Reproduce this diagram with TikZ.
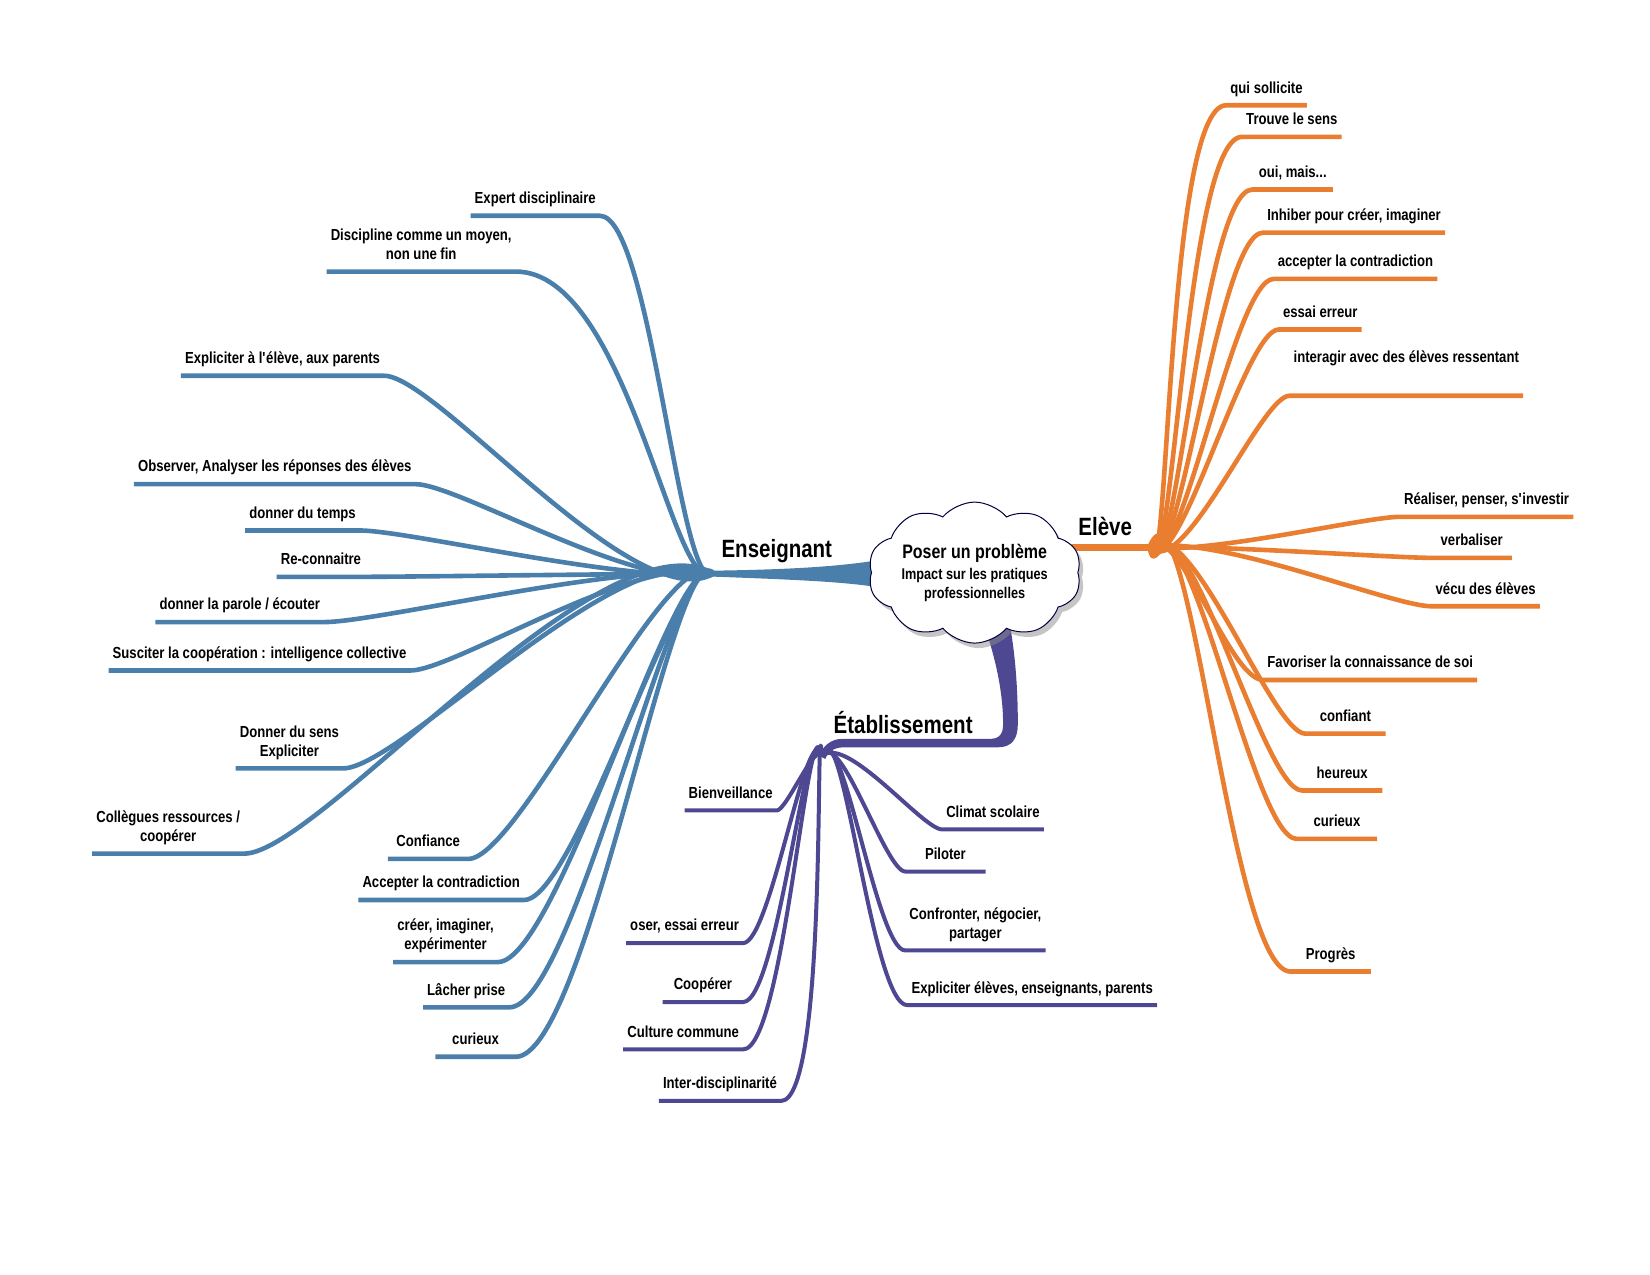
\documentclass[tikz,border=0pt]{standalone}
\usepackage{fontspec}
\setmainfont[FakeStretch=0.82]{Liberation Sans}
\usetikzlibrary{shapes.symbols,shadows}
\definecolor{ensblue}{RGB}{74,127,172}
\definecolor{elvorange}{RGB}{233,125,48}
\definecolor{etapurple}{RGB}{78,72,146}

\begin{document}
\begin{tikzpicture}[
        x=1.0526pt, y=-1.0526pt,
        lab/.style={font=\fontsize{16}{19}\selectfont\bfseries, align=center,
            inner xsep=4pt, inner ysep=7pt, text depth=5pt, minimum width=80pt},
        big/.style={font=\fontsize{25}{28}\selectfont\bfseries},
        ens/.style={draw=ensblue, line width=4.6pt, line join=round,
            out looseness=.6, in looseness=.35},
        elv/.style={ens, draw=elvorange},
        eta/.style={ens, draw=etapurple, line width=4pt},
        prob/.style={cloud, cloud puffs=10, cloud puff arc=100, cloud ignores aspect,
            draw=black!75!blue, line width=1pt, fill=white, inner sep=0pt, align=center,
            minimum width=213pt, minimum height=141pt,
            font=\fontsize{15.5}{19}\selectfont\bfseries,
            drop shadow={shadow xshift=4pt, shadow yshift=-5pt, fill=black!45}},
    ]

    \useasboundingbox (0,0) rectangle (1567.6,1211.3);

    \coordinate (c) at (926,544);
    \coordinate (hE) at (678,545);
    \coordinate (hV) at (1092,520);
    \coordinate (hT) at (781,718);

    % troncs
    \fill[ensblue] ([yshift=3pt]hE) .. controls (763,541) and (811,537) .. (846,530)
        -- (846,560) .. controls (811,553) and (763,551) .. ([yshift=-3pt]hE) -- cycle;
    \draw[elvorange, line width=7pt] (hV) -- (hV -| c);
    \fill[etapurple] (930,580) .. controls (947,625) and (953,660) .. (953,688)
        .. controls (953,698) and (949,702) .. (940,702) -- (800,702)
        .. controls (789,702) and (782,709) .. (778,718) -- (784,721)
        .. controls (787,714) and (792,710) .. (802,710) -- (948,710)
        .. controls (962,710) and (967,701) .. (967,688)
        .. controls (967,650) and (964,615) .. (957,580) -- cycle;

    \node[prob] (cl) at (c) {{\fontsize{19.5}{19}\selectfont Poser un problème}\\[2pt]
        Impact sur les pratiques\\professionnelles};

    \node[big] (ens) at (738,524) {Enseignant};
    \node[big] (elv) at (1050,500) {Elève};
    \node[big] (eta) at (858,686) {Établissement};

    % Enseignant
    \node[lab, anchor=south east] (e1) at (570,205) {Expert disciplinaire};
    \node[lab, anchor=south east] (e2) at (490,258) {Discipline comme un moyen,\\non une fin};
    \node[lab, anchor=south east] (e3) at (365,357) {Expliciter à l\textquotesingle{}élève, aux parents};
    \node[lab, anchor=south east] (e4) at (395,460) {Observer, Analyser les réponses des élèves};
    \node[lab, anchor=south east] (e5) at (342,504) {donner du temps};
    \node[lab, anchor=south east] (e6) at (347,548) {Re-connaitre};
    \node[lab, anchor=south east] (e7) at (308,591) {donner la parole / écouter};
    \node[lab, anchor=south east] (e8) at (390,637) {Susciter la coopération : intelligence collective};
    \node[lab, anchor=south east] (e9) at (326,730) {Donner du sens\\Expliciter};
    \node[lab, anchor=south east] (e10) at (232,811) {Collègues ressources /\\coopérer};
    \node[lab, anchor=south east] (e11) at (445,816) {Confiance};
    \node[lab, anchor=south east] (e12) at (498,855) {Accepter la contradiction};
    \node[lab, anchor=south east] (e13) at (473,914) {créer, imaginer,\\expérimenter};
    \node[lab, anchor=south east] (e14) at (484,957) {Lâcher prise};
    \node[lab, anchor=south east] (e15) at (490,1004) {curieux};

    \draw[ens] (hE) to[out=-140, in=0, out looseness=.3] (e1.south east) -- (e1.south west);
    \draw[ens] (hE) to[out=-145, in=0, out looseness=.35, in looseness=.8] (e2.south east) -- (e2.south west);
    \draw[ens] (hE) to[out=-150, in=0] (e3.south east) -- (e3.south west);
    \draw[ens] (hE) to[out=-163, in=0] (e4.south east) -- (e4.south west);
    \draw[ens] (hE) to[out=-173, in=0] (e5.south east) -- (e5.south west);
    \draw[ens] (hE) to[out=180, in=0] (e6.south east) -- (e6.south west);
    \draw[ens] (hE) to[out=173, in=0] (e7.south east) -- (e7.south west);
    \draw[ens] (hE) to[out=162, in=0] (e8.south east) -- (e8.south west);
    \draw[ens] (hE) to[out=153, in=0] (e9.south east) -- (e9.south west);
    \draw[ens] (hE) to[out=150, in=0] (e10.south east) -- (e10.south west);
    \draw[ens] (hE) to[out=138, in=0, out looseness=.4] (e11.south east) -- (e11.south west);
    \draw[ens] (hE) to[out=136, in=0, out looseness=.3] (e12.south east) -- (e12.south west);
    \draw[ens] (hE) to[out=135, in=0, out looseness=.3] (e13.south east) -- (e13.south west);
    \draw[ens] (hE) to[out=132, in=0, out looseness=.3] (e14.south east) -- (e14.south west);
    \draw[ens] (hE) to[out=128, in=0, out looseness=.3] (e15.south east) -- (e15.south west);

    % Eleve
    \node[lab, anchor=south west] (v1) at (1165,100) {qui sollicite};
    \node[lab, anchor=south west] (v2) at (1180,130) {Trouve le sens};
    \node[lab, anchor=south west] (v3) at (1190,180) {oui, mais...};
    \node[lab, anchor=south west] (v4) at (1200,221) {Inhiber pour créer, imaginer};
    \node[lab, anchor=south west] (v5) at (1210,265) {accepter la contradiction};
    \node[lab, anchor=south west] (v6) at (1215,313) {essai erreur};
    \node[lab, anchor=south west, text depth=26pt] (v7) at (1225,376) {interagir avec des élèves ressentant};
    \node[lab, anchor=south west] (v8) at (1330,491) {Réaliser, penser, s\textquotesingle{}investir};
    \node[lab, anchor=south west] (v9) at (1360,530) {verbaliser};
    \node[lab, anchor=south west] (v10) at (1360,576) {vécu des élèves};
    \node[lab, anchor=south west] (v11) at (1200,646) {Favoriser la connaissance de soi};
    \node[lab, anchor=south west] (v12) at (1240,697) {confiant};
    \node[lab, anchor=south west] (v13) at (1237,751) {heureux};
    \node[lab, anchor=south west] (v14) at (1232,797) {curieux};
    \node[lab, anchor=south west] (v15) at (1226,923) {Progrès};

    \draw[elv] (hV) to[out=-77, in=180, out looseness=.5] (v1.south west) -- (v1.south east);
    \draw[elv] (hV) to[out=-74, in=180, out looseness=.5] (v2.south west) -- (v2.south east);
    \draw[elv] (hV) to[out=-70, in=180, out looseness=.5] (v3.south west) -- (v3.south east);
    \draw[elv] (hV) to[out=-66, in=180, out looseness=.5] (v4.south west) -- (v4.south east);
    \draw[elv] (hV) to[out=-61, in=180, out looseness=.5] (v5.south west) -- (v5.south east);
    \draw[elv] (hV) to[out=-56, in=180, out looseness=.5] (v6.south west) -- (v6.south east);
    \draw[elv] (hV) to[out=-45, in=180] (v7.south west) -- (v7.south east);
    \draw[elv] (hV) to[out=-7, in=180] (v8.south west) -- (v8.south east);
    \draw[elv] (hV) to[out=2, in=180] (v9.south west) -- (v9.south east);
    \draw[elv] (hV) to[out=12, in=180] (v10.south west) -- (v10.south east);
    \draw[elv] (hV) to[out=46, in=180, in looseness=.5] (v11.south west) -- (v11.south east);
    \draw[elv] (hV) to[out=47, in=180] (v12.south west) -- (v12.south east);
    \draw[elv] (hV) to[out=54, in=180] (v13.south west) -- (v13.south east);
    \draw[elv] (hV) to[out=59, in=180] (v14.south west) -- (v14.south east);
    \draw[elv] (hV) to[out=68, in=180] (v15.south west) -- (v15.south east);

    % Etablissement
    \node[lab, anchor=south east] (t1) at (738,770) {Bienveillance};
    \node[lab, anchor=south east] (t2) at (706,896) {oser, essai erreur};
    \node[lab, anchor=south east] (t3) at (706,952) {Coopérer};
    \node[lab, anchor=south east] (t4) at (706,997) {Culture commune};
    \node[lab, anchor=south east] (t5) at (742,1046) {Inter-disciplinarité};
    \node[lab, anchor=south west] (t6) at (895,788) {Climat scolaire};
    \node[lab, anchor=south west] (t7) at (860,828) {Piloter};
    \node[lab, anchor=south west] (t8) at (860,903) {Confronter, négocier,\\partager};
    \node[lab, anchor=south west] (t9) at (862,955) {Expliciter élèves, enseignants, parents};

    \draw[eta] (hT) to[out=112, in=0] (t1.south east) -- (t1.south west);
    \draw[eta] (hT) to[out=108, in=0] (t2.south east) -- (t2.south west);
    \draw[eta] (hT) to[out=104, in=0] (t3.south east) -- (t3.south west);
    \draw[eta] (hT) to[out=101, in=0] (t4.south east) -- (t4.south west);
    \draw[eta] (hT) to[out=95, in=0] (t5.south east) -- (t5.south west);
    \draw[eta] (hT) to[out=40, in=180] (t6.south west) -- (t6.south east);
    \draw[eta] (hT) to[out=57, in=180] (t7.south west) -- (t7.south east);
    \draw[eta] (hT) to[out=67, in=180] (t8.south west) -- (t8.south east);
    \draw[eta] (hT) to[out=71, in=180] (t9.south west) -- (t9.south east);
\end{tikzpicture}
\end{document}
